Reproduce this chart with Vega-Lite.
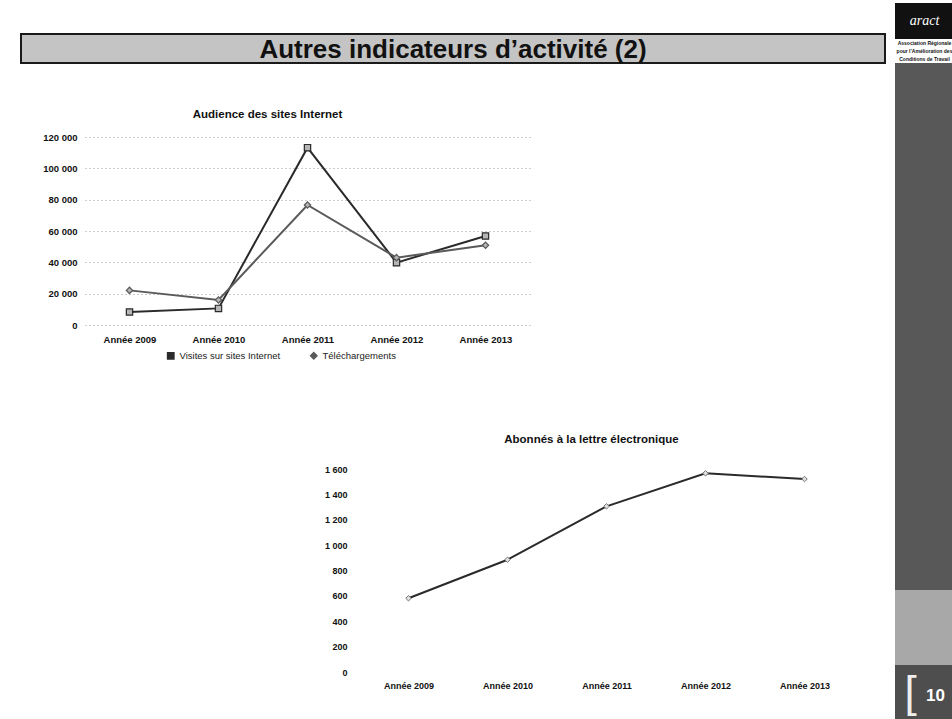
{
  "$schema": "https://vega.github.io/schema/vega-lite/v6.json",
  "background": "white",
  "padding": {"left": 20, "top": 0, "right": 0, "bottom": 0},
  "config": {
    "font": "Liberation Sans",
    "view": {"stroke": null},
    "locale": {"number": {"decimal": ",", "thousands": " ", "grouping": [3], "currency": ["", " €"]}},
    "axis": {"labelFont": "Liberation Sans", "labelFontWeight": "bold", "labelFontSize": 9.5, "labelColor": "#111", "ticks": false, "domain": false},
    "title": {"font": "Liberation Sans", "fontWeight": "bold", "fontSize": 11.5, "color": "#111"},
    "legend": {"labelFont": "Liberation Sans", "labelFontSize": 9.5, "labelColor": "#222"}
  },
  "spacing": 9,
  "resolve": {"legend": {"color": "independent", "shape": "independent"}},
  "hconcat": [
    {
      "spacing": 0,
      "resolve": {"legend": {"color": "independent", "shape": "independent"}},
      "vconcat": [
        {"width": 1, "height": 33, "data": {"values": []}, "mark": "point"},
        {
          "width": 864, "height": 29,
          "view": {"fill": "#c4c4c4", "stroke": "#1a1a1a", "strokeWidth": 2},
          "data": {"values": [{"t": "Autres indicateurs d’activité (2)"}]},
          "mark": {"type": "text", "font": "Liberation Sans", "fontWeight": "bold", "fontSize": 26, "color": "#111", "baseline": "middle", "align": "center", "dy": 1},
          "encoding": {"text": {"field": "t"}}
        },
        {"width": 1, "height": 44, "data": {"values": []}, "mark": "point"},
        {
          "spacing": 0,
          "resolve": {"legend": {"color": "independent", "shape": "independent"}},
          "hconcat": [
            {"width": 21, "height": 1, "data": {"values": []}, "mark": "point"},
            {
              "width": 445, "height": 188,
              "title": {"text": "Audience des sites Internet", "offset": 12, "dx": -40},
              "data": {"values": [
                {"annee": "Année 2009", "serie": "Visites sur sites Internet", "valeur": 8300},
                {"annee": "Année 2010", "serie": "Visites sur sites Internet", "valeur": 10600},
                {"annee": "Année 2011", "serie": "Visites sur sites Internet", "valeur": 113200},
                {"annee": "Année 2012", "serie": "Visites sur sites Internet", "valeur": 39800},
                {"annee": "Année 2013", "serie": "Visites sur sites Internet", "valeur": 56800},
                {"annee": "Année 2009", "serie": "Téléchargements", "valeur": 22100},
                {"annee": "Année 2010", "serie": "Téléchargements", "valeur": 16000},
                {"annee": "Année 2011", "serie": "Téléchargements", "valeur": 76600},
                {"annee": "Année 2012", "serie": "Téléchargements", "valeur": 43000},
                {"annee": "Année 2013", "serie": "Téléchargements", "valeur": 50900}
              ]},
              "encoding": {
                "x": {"field": "annee", "type": "ordinal", "sort": null, "axis": {"labelAngle": 0, "labelPadding": 9, "title": null, "grid": false}},
                "y": {"field": "valeur", "type": "quantitative", "scale": {"domain": [0, 120000]}, "axis": {"values": [0, 20000, 40000, 60000, 80000, 100000, 120000], "format": ",.0f", "grid": true, "gridDash": [1, 3], "gridColor": "#9a9a9a", "labelPadding": 8, "title": null}},
                "color": {"field": "serie", "type": "nominal", "scale": {"domain": ["Visites sur sites Internet", "Téléchargements"], "range": ["#2a2a2a", "#5a5a5a"]}, "legend": {"orient": "none", "legendX": 81, "legendY": 214, "direction": "horizontal", "title": null, "columnPadding": 26, "symbolSize": 40}},
                "shape": {"field": "serie", "type": "nominal", "scale": {"domain": ["Visites sur sites Internet", "Téléchargements"], "range": ["square", "diamond"]}, "legend": {"orient": "none", "legendX": 81, "legendY": 214, "direction": "horizontal", "title": null, "columnPadding": 26, "symbolSize": 40}}
              },
              "layer": [
                {"mark": {"type": "line", "strokeWidth": 2}},
                {"mark": {"type": "point", "filled": false, "fill": "#b5b5b5", "size": 40, "strokeWidth": 1.2, "opacity": 1}}
              ]
            }
          ]
        },
        {"width": 1, "height": 71, "data": {"values": []}, "mark": "point"},
        {
          "spacing": 0,
          "hconcat": [
            {"width": 303, "height": 1, "data": {"values": []}, "mark": "point"},
            {
              "width": 495, "height": 203,
              "title": {"text": "Abonnés à la lettre électronique", "offset": 20, "dx": -15},
              "data": {"values": [
                {"annee": "Année 2009", "abonnes": 581},
                {"annee": "Année 2010", "abonnes": 885},
                {"annee": "Année 2011", "abonnes": 1306},
                {"annee": "Année 2012", "abonnes": 1566},
                {"annee": "Année 2013", "abonnes": 1521}
              ]},
              "encoding": {
                "x": {"field": "annee", "type": "ordinal", "sort": null, "axis": {"labelAngle": 0, "labelPadding": 9, "title": null, "grid": false, "labelFontSize": 9}},
                "y": {"field": "abonnes", "type": "quantitative", "scale": {"domain": [0, 1600]}, "axis": {"values": [0, 200, 400, 600, 800, 1000, 1200, 1400, 1600], "format": ",.0f", "grid": false, "labelPadding": 12, "title": null, "labelFontSize": 9}}
              },
              "layer": [
                {"mark": {"type": "line", "strokeWidth": 2, "color": "#2a2a2a"}},
                {"mark": {"type": "point", "shape": "diamond", "filled": false, "fill": "#e0e0e0", "color": "#777", "size": 30, "strokeWidth": 1, "opacity": 1}}
              ]
            }
          ]
        }
      ]
    },
    {
      "spacing": 0,
      "vconcat": [
        {"width": 59, "height": 3, "data": {"values": []}, "mark": "point"},
        {
          "width": 59, "height": 36,
          "view": {"fill": "#111"},
          "data": {"values": [{"t": "aract"}]},
          "mark": {"type": "text", "font": "Liberation Serif", "fontStyle": "italic", "fontSize": 14, "color": "white", "baseline": "middle", "align": "center"},
          "encoding": {"text": {"field": "t"}}
        },
        {
          "width": 59, "height": 24,
          "view": {"fill": "white"},
          "data": {"values": [{"l": "Association Régionale"}, {"l": "pour l’Amélioration des"}, {"l": "Conditions de Travail"}]},
          "mark": {"type": "text", "fontSize": 5, "fontWeight": "bold", "color": "#111", "baseline": "middle", "align": "center"},
          "encoding": {"text": {"field": "l"}, "y": {"field": "l", "type": "ordinal", "sort": null, "axis": null}}
        },
        {"width": 59, "height": 527, "view": {"fill": "#585858"}, "data": {"values": []}, "mark": "point"},
        {"width": 59, "height": 75, "view": {"fill": "#a8a8a8"}, "data": {"values": []}, "mark": "point"},
        {
          "width": 59, "height": 54,
          "view": {"fill": "#4e4e4e"},
          "data": {"values": [{"n": "10", "b": "["}]},
          "layer": [
            {"mark": {"type": "text", "fontSize": 44, "fontWeight": "normal", "color": "#eeeeee", "baseline": "middle", "align": "center", "dx": -14, "dy": 2}, "encoding": {"text": {"field": "b"}}},
            {"mark": {"type": "text", "fontSize": 17, "fontWeight": "bold", "color": "white", "baseline": "middle", "align": "center", "dx": 11, "dy": 4}, "encoding": {"text": {"field": "n"}}}
          ]
        }
      ]
    }
  ]
}
